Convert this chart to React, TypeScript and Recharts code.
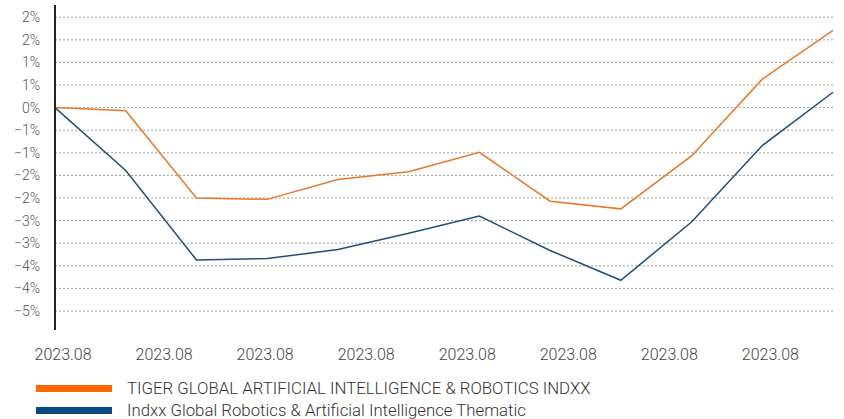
import React from "react";
import { LineChart, Line, XAxis, YAxis, CartesianGrid } from "recharts";

const periods = [0, 1, 2, 3, 4, 5, 6, 7, 8, 9, 10, 11];
const tigerIndex = [0, -0.07, -2.0, -2.03, -1.59, -1.42, -0.99, -2.07, -2.24, -1.07, 0.63, 1.71];
const indxxIndex = [0, -1.39, -3.37, -3.34, -3.14, -2.78, -2.4, -3.16, -3.82, -2.53, -0.84, 0.34];
const dateLabels = ["2023.08", "2023.08", "2023.08", "2023.08", "2023.08", "2023.08", "2023.08", "2023.08"];
const yTicks = [-4.5, -4, -3.5, -3, -2.5, -2, -1.5, -1, -0.5, 0, 0.5, 1, 1.5, 2];

const seriesNames = {
  tiger: "TIGER GLOBAL ARTIFICIAL INTELLIGENCE & ROBOTICS INDXX",
  indxx: "Indxx Global Robotics & Artificial Intelligence Thematic",
};

const data = periods.map((p, i) => ({ idx: p, tiger: tigerIndex[i], indxx: indxxIndex[i] }));

const FONT = "Roboto, 'Liberation Sans', sans-serif";

function pct(v: number) {
  const r = Math.round(Math.abs(v));
  if (r === 0) return "0%";
  return (v < 0 ? "\u2212" : "") + r + "%";
}

function LegendRow({ color, label }: { color: string; label: string }) {
  return (
    <div style={{ display: "flex", alignItems: "center", height: 22 }}>
      <span style={{ display: "inline-block", width: 76, height: 7, background: color, marginLeft: 36, marginRight: 15 }} />
      <span style={{ fontSize: 16.8, color: "#333", fontWeight: 300, whiteSpace: "nowrap" }}>{label}</span>
    </div>
  );
}

export default function App() {
  return (
    <div style={{ position: "relative", width: 844, height: 419, overflow: "hidden", fontFamily: FONT, background: "#fff" }}>
      <style>{"body{margin:0}"}</style>
      <LineChart width={844} height={419} data={data} margin={{ top: 5, right: 11, left: 0, bottom: 59 }}>
        <CartesianGrid vertical={false} stroke="#a0a0a0" strokeDasharray="2 2" horizontalValues={yTicks} />
        <XAxis dataKey="idx" type="number" domain={[0, 11]} hide height={0} />
        <XAxis
          xAxisId="dates"
          dataKey="dateSlot"
          type="number"
          domain={[-0.08, 7.62]}
          allowDataOverflow
          ticks={dateLabels.map((_, i) => i)}
          tickFormatter={(i: number) => dateLabels[i]}
          axisLine={false}
          tickLine={false}
          tickMargin={13}
          height={30}
          interval={0}
          tick={{ fill: "#444", fontSize: 16, fontFamily: FONT, fontWeight: 300 }}
        />
        <YAxis
          width={55}
          domain={[-4.92, 2.27]}
          allowDataOverflow
          ticks={yTicks}
          interval={0}
          tickFormatter={pct}
          axisLine={{ stroke: "#222", strokeWidth: 2 }}
          tickLine={false}
          tickMargin={9}
          tick={{ fill: "#555", fontSize: 14, fontFamily: FONT, fontWeight: 300 }}
        />
        <Line dataKey="tiger" stroke="#E8782A" strokeWidth={1.5} dot={false} isAnimationActive={false} />
        <Line dataKey="indxx" stroke="#1F4E79" strokeWidth={1.5} dot={false} isAnimationActive={false} />
      </LineChart>
      <div style={{ position: "absolute", left: 0, top: 377 }}>
        <LegendRow color="#FF6600" label={seriesNames.tiger} />
        <LegendRow color="#0B4A80" label={seriesNames.indxx} />
      </div>
    </div>
  );
}
